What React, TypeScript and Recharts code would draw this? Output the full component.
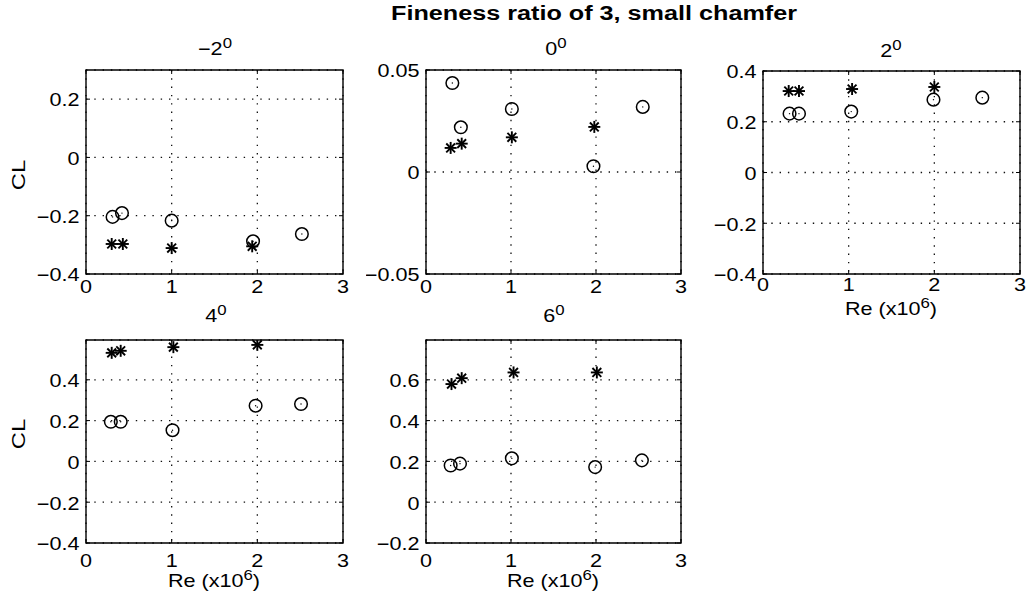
import React from 'react';
import { ScatterChart, Scatter, XAxis, YAxis, CartesianGrid, ReferenceArea } from 'recharts';

const FONT = '"Liberation Sans", Arial, Helvetica, sans-serif';

const reTicks = [0, 1, 2, 3];

// Angle -2 deg
const reCircM2 = [0.31, 0.42, 1.0, 1.95, 2.52];
const clCircM2 = [-0.204, -0.191, -0.217, -0.288, -0.263];
const reStarM2 = [0.3, 0.43, 1.0, 1.94];
const clStarM2 = [-0.297, -0.297, -0.311, -0.305];

// Angle 0 deg
const reCirc0 = [0.31, 0.41, 1.01, 1.97, 2.55];
const clCirc0 = [0.0436, 0.0219, 0.0309, 0.0028, 0.0319];
const reStar0 = [0.29, 0.42, 1.01, 1.98];
const clStar0 = [0.0118, 0.0139, 0.017, 0.0221];

// Angle 2 deg
const reCirc2 = [0.31, 0.42, 1.03, 1.99, 2.56];
const clCirc2 = [0.232, 0.232, 0.24, 0.287, 0.295];
const reStar2 = [0.3, 0.42, 1.04, 2.0];
const clStar2 = [0.321, 0.321, 0.329, 0.337];

// Angle 4 deg
const reCirc4 = [0.29, 0.405, 1.01, 1.98, 2.51];
const clCirc4 = [0.194, 0.194, 0.153, 0.273, 0.281];
const reStar4 = [0.3, 0.405, 1.02, 2.0];
const clStar4 = [0.532, 0.542, 0.56, 0.571];

// Angle 6 deg
const reCirc6 = [0.29, 0.4, 1.01, 1.99, 2.54];
const clCirc6 = [0.18, 0.189, 0.215, 0.172, 0.205];
const reStar6 = [0.3, 0.42, 1.03, 2.01];
const clStar6 = [0.579, 0.608, 0.636, 0.636];

const yTicksA = [-0.4, -0.2, 0, 0.2];
const yTicksB = [-0.05, 0, 0.05];
const yTicksC = [-0.4, -0.2, 0, 0.2, 0.4];
const yTicksD = [-0.2, 0, 0.2, 0.4, 0.6];

const zip = (xs: number[], ys: number[]) => xs.map((x, i) => ({ x, y: ys[i] }));

const fmtY = (v: number) => {
  if (v === 0) return '0';
  const s = Math.abs(v).toString();
  return v < 0 ? '\u2212' + s : s;
};

const CircleMark = (props: any) => {
  const { cx, cy } = props;
  if (cx == null || cy == null) return null;
  return (
    <g>
      <circle cx={cx} cy={cy} r={6.3} fill="none" stroke="#000" strokeWidth={1.5} />
      <circle cx={cx} cy={cy} r={0.7} fill="#000" />
    </g>
  );
};

const StarMark = (props: any) => {
  const { cx, cy } = props;
  if (cx == null || cy == null) return null;
  const a = 6;
  const d = 4.4;
  return (
    <g stroke="#000" strokeWidth={1.9}>
      <line x1={cx - a} y1={cy} x2={cx + a} y2={cy} />
      <line x1={cx} y1={cy - a} x2={cx} y2={cy + a} />
      <line x1={cx - d} y1={cy - d} x2={cx + d} y2={cy + d} />
      <line x1={cx - d} y1={cy + d} x2={cx + d} y2={cy - d} />
    </g>
  );
};

type Box = { l: number; r: number; t: number; b: number };

const L = 60;
const T = 10;
const R = 10;
const B = 30;

function Panel(p: {
  box: Box;
  yDomain: [number, number];
  yTicks: number[];
  circ: { x: number; y: number }[];
  star: { x: number; y: number }[];
  xLabelGap: number;
}) {
  const { box, yDomain, yTicks, circ, star, xLabelGap } = p;
  const w = box.r - box.l;
  const h = box.b - box.t;

  const renderXTick = (tp: any) => {
    const { x, payload } = tp;
    return (
      <g>
        <line x1={x} y1={T + h} x2={x} y2={T + h - 4} stroke="#000" strokeWidth={1} />
        <line x1={x} y1={T} x2={x} y2={T + 4} stroke="#000" strokeWidth={1} />
        <text
          transform={`translate(${x},${T + h + xLabelGap}) scale(1.2,1)`}
          textAnchor="middle"
          dominantBaseline="central"
          fontFamily={FONT}
          fontSize={18}
          fill="#000"
        >
          {String(payload.value)}
        </text>
      </g>
    );
  };

  const renderYTick = (tp: any) => {
    const { y, payload } = tp;
    return (
      <g>
        <line x1={L} y1={y} x2={L + 4} y2={y} stroke="#000" strokeWidth={1} />
        <line x1={L + w - 4} y1={y} x2={L + w} y2={y} stroke="#000" strokeWidth={1} />
        <text
          transform={`translate(${L - 6.5},${y + 1}) scale(1.2,1)`}
          textAnchor="end"
          dominantBaseline="central"
          fontFamily={FONT}
          fontSize={18}
          fill="#000"
        >
          {fmtY(payload.value)}
        </text>
      </g>
    );
  };

  return (
    <div style={{ position: 'absolute', left: box.l - L, top: box.t - T }}>
      <ScatterChart width={w + L + R} height={h + T + B} margin={{ top: T, right: R, left: 0, bottom: 0 }}>
        <CartesianGrid stroke="#111" strokeDasharray="1.4 6.9" strokeWidth={1.3} />
        <XAxis
          type="number"
          dataKey="x"
          domain={[0, 3]}
          ticks={reTicks}
          axisLine={false}
          tickLine={false}
          tick={renderXTick}
          height={B}
          allowDataOverflow
          interval={0}
        />
        <YAxis
          type="number"
          dataKey="y"
          domain={yDomain}
          ticks={yTicks}
          axisLine={false}
          tickLine={false}
          tick={renderYTick}
          width={L}
          allowDataOverflow
          interval={0}
        />
        <ReferenceArea
          x1={0}
          x2={3}
          y1={yDomain[0]}
          y2={yDomain[1]}
          fill="none"
          fillOpacity={0}
          stroke="#000"
          strokeWidth={1.4}
        />
        <Scatter data={star} shape={StarMark} isAnimationActive={false} />
        <Scatter data={circ} shape={CircleMark} isAnimationActive={false} />
      </ScatterChart>
    </div>
  );
}

const SubTitle = ({ cx, base, main }: { cx: number; base: number; main: string }) => (
  <text transform={`translate(${cx},${base}) scale(1.2,1)`} textAnchor="middle" fontFamily={FONT} fontSize={18} fill="#000">
    <tspan>{main}</tspan>
    <tspan dy={-7} fontSize={14}>0</tspan>
  </text>
);

const XLabel = ({ cx, base }: { cx: number; base: number }) => (
  <text transform={`translate(${cx},${base}) scale(1.2,1)`} textAnchor="middle" fontFamily={FONT} fontSize={18} fill="#000">
    <tspan>Re (x10</tspan>
    <tspan dy={-7} fontSize={14}>6</tspan>
    <tspan dy={7}>)</tspan>
  </text>
);

const YLabel = ({ cx, cy }: { cx: number; cy: number }) => (
  <text
    transform={`translate(${cx},${cy}) rotate(-90) scale(1.25,1)`}
    textAnchor="middle"
    dominantBaseline="central"
    fontFamily={FONT}
    fontSize={19}
    fill="#000"
  >
    CL
  </text>
);

export default function App() {
  return (
    <div style={{ position: 'absolute', left: 0, top: 0, width: 1031, height: 612, background: '#fff', overflow: 'hidden' }}>
      <Panel box={{ l: 86, r: 343, t: 70, b: 274 }} yDomain={[-0.4, 0.3]} yTicks={yTicksA} circ={zip(reCircM2, clCircM2)} star={zip(reStarM2, clStarM2)} xLabelGap={13} />
      <Panel box={{ l: 426, r: 681, t: 70, b: 274 }} yDomain={[-0.05, 0.05]} yTicks={yTicksB} circ={zip(reCirc0, clCirc0)} star={zip(reStar0, clStar0)} xLabelGap={13} />
      <Panel box={{ l: 763, r: 1020, t: 71, b: 274 }} yDomain={[-0.4, 0.4]} yTicks={yTicksC} circ={zip(reCirc2, clCirc2)} star={zip(reStar2, clStar2)} xLabelGap={11} />
      <Panel box={{ l: 86, r: 343, t: 340, b: 543 }} yDomain={[-0.4, 0.595]} yTicks={yTicksC} circ={zip(reCirc4, clCirc4)} star={zip(reStar4, clStar4)} xLabelGap={18} />
      <Panel box={{ l: 426, r: 681, t: 340, b: 543 }} yDomain={[-0.2, 0.795]} yTicks={yTicksD} circ={zip(reCirc6, clCirc6)} star={zip(reStar6, clStar6)} xLabelGap={18} />
      <svg width={1031} height={612} style={{ position: 'absolute', left: 0, top: 0, pointerEvents: 'none' }}>
        <text transform="translate(594,20) scale(1.2,1)" textAnchor="middle" fontFamily={FONT} fontSize={21} fontWeight="bold" fill="#000">
          Fineness ratio of 3, small chamfer
        </text>
        <SubTitle cx={215} base={55} main={'\u22122'} />
        <SubTitle cx={556} base={55} main="0" />
        <SubTitle cx={891} base={57} main="2" />
        <SubTitle cx={216} base={322} main="4" />
        <SubTitle cx={554} base={322} main="6" />
        <YLabel cx={19} cy={175} />
        <YLabel cx={19} cy={434} />
        <XLabel cx={891} base={315} />
        <XLabel cx={214} base={587} />
        <XLabel cx={553} base={587} />
      </svg>
    </div>
  );
}
